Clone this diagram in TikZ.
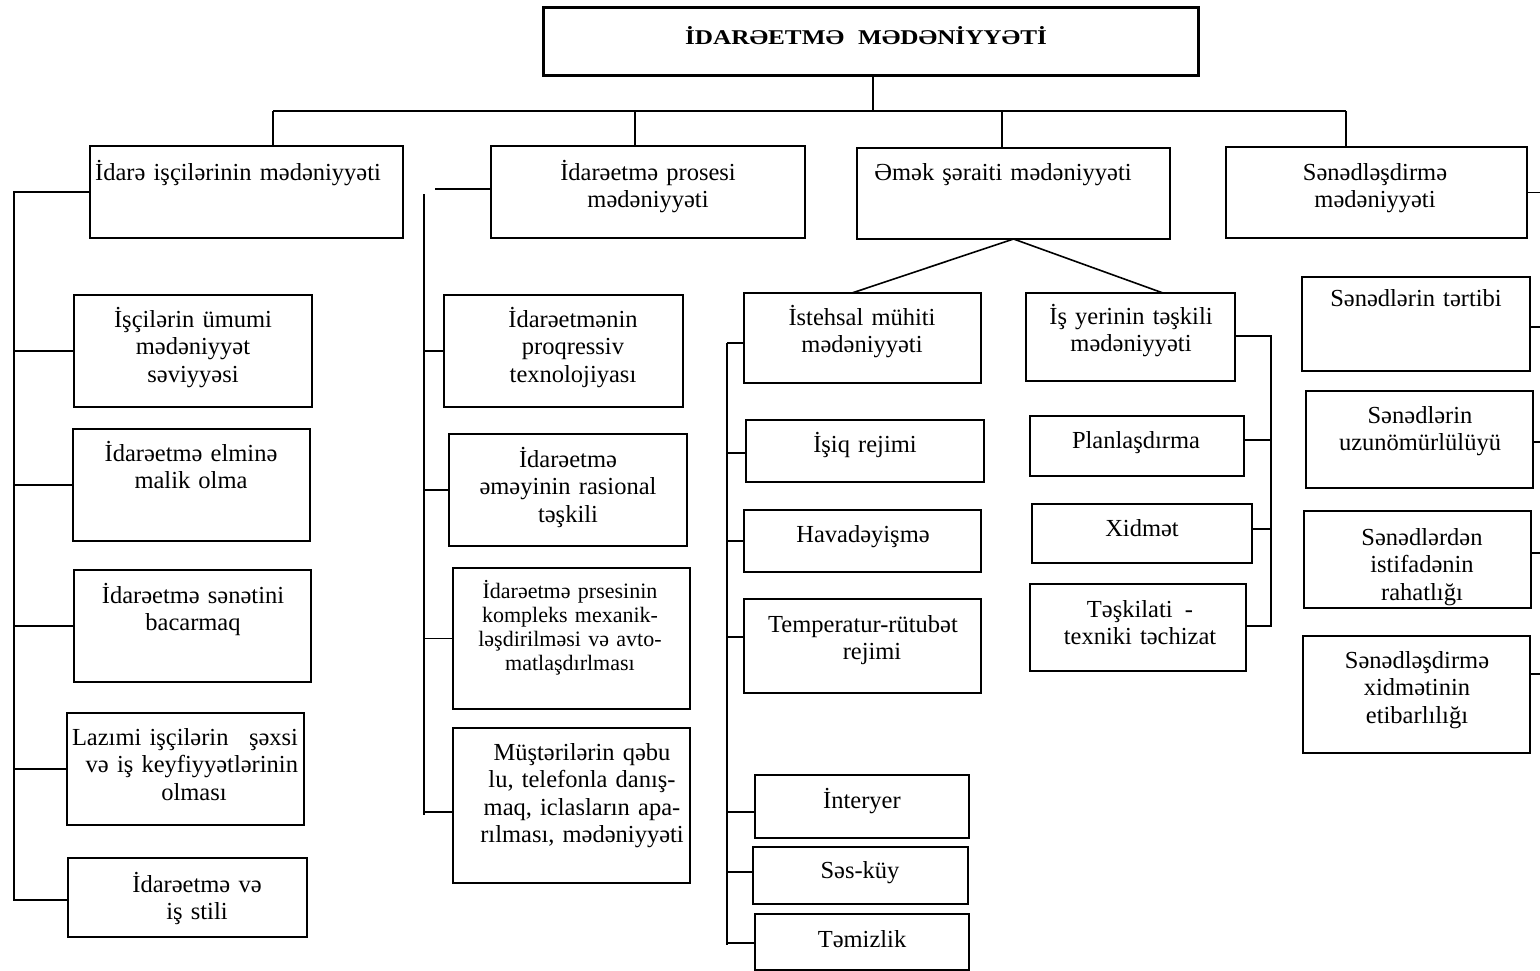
\documentclass[tikz,border=0pt]{standalone}
\usepackage{fontspec}
\usepackage{graphicx}
\setmainfont{Liberation Serif}

% \bx{name}{x1}{y1}{x2}{y2}: an empty framed box between two corners
\newcommand{\bx}[6][]{%
  \node[box,#1,minimum width={#5-#3},minimum height={#6-#4}] (#2)
    at ({(#3+#5)/2},{(#4+#6)/2}) {};}

\begin{document}
\begin{tikzpicture}[x=1pt,y=-1pt,
  box/.style={draw,line width=1.6pt,inner sep=0pt,outer sep=0pt},
  conn/.style={line width=1.6pt},
  lbl/.style={font=\fontsize{24.5}{27.5}\selectfont,text width=290pt,
    align=center,anchor=base,inner sep=0pt},
  small/.style={font=\fontsize{22}{24}\selectfont}]
\useasboundingbox (0,0) rectangle (1540,971);

% ---------- boxes ----------
\bx[line width=3pt]{root}{543}{8}{1198}{76}
\bx{A}{90}{146}{403}{238}
\bx{B}{491}{146}{805}{238}
\bx{C}{857}{148}{1170}{239}
\bx{D}{1226}{147}{1527}{238}

\bx{A1}{74}{295}{312}{407}
\bx{A2}{73}{429}{310}{541}
\bx{A3}{74}{570}{311}{682}
\bx{A4}{67}{713}{304}{825}
\bx{A5}{68}{858}{307}{937}

\bx{B1}{444}{295}{683}{407}
\bx{B2}{449}{434}{687}{546}
\bx{B3}{453}{568}{690}{709}
\bx{B4}{453}{728}{690}{883}

\bx{C1}{744}{293}{981}{383}
\bx{C2}{1026}{293}{1235}{381}
\bx{C1a}{746}{420}{984}{482}
\bx{C1b}{744}{510}{981}{572}
\bx{C1c}{744}{599}{981}{693}
\bx{C1d}{755}{775}{969}{838}
\bx{C1e}{753}{847}{968}{904}
\bx{C1f}{755}{914}{969}{970}
\bx{C2a}{1030}{416}{1244}{476}
\bx{C2b}{1032}{504}{1252}{563}
\bx{C2c}{1030}{584}{1246}{671}

\bx{D1}{1302}{277}{1530}{371}
\bx{D2}{1306}{391}{1533}{488}
\bx{D3}{1304}{511}{1531}{608}
\bx{D4}{1303}{636}{1530}{753}

% ---------- texts ----------
\node[font=\bfseries\fontsize{21}{24}\selectfont,anchor=base,inner sep=0pt] (tRoot)
  at (866,45) {\scalebox{1.2}[1]{İDARƏETMƏ\hspace{0.55em}MƏDƏNİYYƏTİ}};

\node[lbl,anchor=base west,align=left,text width=320pt] (tA) at (95,181)
  {İdarə işçilərinin mədəniyyəti};
\node[lbl] (tB) at (648,180) {İdarəetmə prosesi\\mədəniyyəti};
\node[lbl] (tC) at (1003,180) {Əmək şəraiti mədəniyyəti};
\node[lbl] (tD) at (1375,180) {Sənədləşdirmə\\mədəniyyəti};

\node[lbl] (tA1) at (193,327) {İşçilərin ümumi\\mədəniyyət\\səviyyəsi};
\node[lbl] (tA2) at (191,461) {İdarəetmə elminə\\malik olma};
\node[lbl] (tA3) at (193,603) {İdarəetmə sənətini\\bacarmaq};
\node[lbl,text width=226pt] (tA4) at (185,745)
  {Lazımi işçilərin\hfill şəxsi\\\hfill və iş keyfiyyətlərinin\\\hspace*{18pt}olması};
\node[lbl] (tA5) at (197,892) {İdarəetmə və\\iş stili};

\node[lbl] (tB1) at (573,327) {İdarəetmənin\hspace*{20pt}\\proqressiv\\texnolojiyası};
\node[lbl] (tB2) at (568,467) {İdarəetmə\\əməyinin rasional\\təşkili};
\node[lbl,small] (tB3) at (570,598)
  {İdarəetmə prsesinin\\kompleks mexanik-\\ləşdirilməsi və avto-\\matlaşdırlması};
\node[lbl] (tB4) at (582,760)
  {Müştərilərin qəbu\\lu, telefonla danış-\\maq, iclasların apa-\\rılması, mədəniyyəti};

\node[lbl] (tC1) at (862,325) {İstehsal mühiti\\mədəniyyəti};
\node[lbl] (tC2) at (1131,324) {İş yerinin təşkili\\mədəniyyəti};
\node[lbl] (tC1a) at (865,452) {İşiq rejimi};
\node[lbl] (tC1b) at (863,542) {Havadəyişmə};
\node[lbl] (tC1c) at (863,632) {Temperatur-rütubət\\\hspace*{18pt}rejimi};
\node[lbl] (tC1d) at (862,808) {İnteryer};
\node[lbl] (tC1e) at (860,878) {Səs-küy};
\node[lbl] (tC1f) at (862,947) {Təmizlik};
\node[lbl] (tC2a) at (1136,448) {Planlaşdırma};
\node[lbl] (tC2b) at (1142,536) {Xidmət};
\node[lbl] (tC2c) at (1140,617) {Təşkilati\hspace{0.5em}-\\texniki təchizat};

\node[lbl] (tD1) at (1416,306) {Sənədlərin tərtibi};
\node[lbl] (tD2) at (1420,423) {Sənədlərin\\uzunömürlülüyü};
\node[lbl] (tD3) at (1422,545) {Sənədlərdən\\istifadənin\\rahatlığı};
\node[lbl] (tD4) at (1417,668) {Sənədləşdirmə\\xidmətinin\\etibarlılığı};

% ---------- top level connectors ----------
\coordinate (busL) at (273,111);
\coordinate (busR) at (1346,111);
\coordinate (topB) at (635,111);
\coordinate (topC) at (1002,111);
\draw[conn] (873,0 |- root.south) -- (873,0 |- busL);
\draw[line width=2.4pt] (busL) -- (busR);
\draw[conn] (busL) -- (busL |- A.north);
\draw[conn] (topB) -- (topB |- B.north);
\draw[conn] (topC) -- (topC |- C.north);
\draw[conn] (busR) -- (busR |- D.north);

% ---------- first column ----------
\coordinate (aBus) at (14,0);
\draw[conn] (A.west) -- (A.west -| aBus) -- (aBus |- 0,900) -- (A5.west |- 0,900);
\foreach \n in {A1,A2,A3,A4}
  \draw[conn] (aBus |- \n.west) -- (\n.west);

% ---------- second column ----------
\coordinate (bStub) at (435,189);
\coordinate (bTop) at (424,194);
\coordinate (bBot) at (424,815);
\draw[conn] (bStub) -- (bStub -| B.west);
\draw[conn] (bTop) -- (bBot);
\foreach \n in {B1,B2,B3}
  \draw[conn] (bTop |- \n.west) -- (\n.west);
\draw[conn] (bTop |- 0,812) -- (B4.west |- 0,812);

% ---------- third column ----------
\draw[conn] (C.south) -- (852,0 |- C1.north);
\draw[conn] (C.south) -- (1163,0 |- C2.north);

\coordinate (cBus) at (727,0);
\draw[conn] (cBus |- 0,343) -- (cBus |- 0,945);
\draw[conn] (cBus |- 0,343) -- (C1.west |- 0,343);
\draw[conn] (cBus |- 0,453) -- (C1a.west |- 0,453);
\draw[conn] (cBus |- 0,541) -- (C1b.west |- 0,541);
\draw[conn] (cBus |- 0,637) -- (C1c.west |- 0,637);
\draw[conn] (cBus |- 0,812) -- (C1d.west |- 0,812);
\draw[conn] (cBus |- 0,872) -- (C1e.west |- 0,872);
\draw[conn] (cBus |- 0,943) -- (C1f.west |- 0,943);

\coordinate (kBus) at (1271,0);
\draw[conn] (C2.east |- 0,336) -- (kBus |- 0,336) -- (kBus |- 0,626) -- (C2c.east |- 0,626);
\draw[conn] (C2a.east |- 0,440) -- (kBus |- 0,440);
\draw[conn] (C2b.east |- 0,529) -- (kBus |- 0,529);

% ---------- fourth column ----------
\coordinate (rEdge) at (1540,0);
\draw[conn] (D.east) -- (D.east -| rEdge);
\draw[conn] (D1.east |- 0,327) -- (rEdge |- 0,327);
\draw[conn] (D2.east |- 0,442) -- (rEdge |- 0,442);
\draw[conn] (D3.east |- 0,553) -- (rEdge |- 0,553);
\draw[conn] (D4.east |- 0,674) -- (rEdge |- 0,674);
\end{tikzpicture}
\end{document}
